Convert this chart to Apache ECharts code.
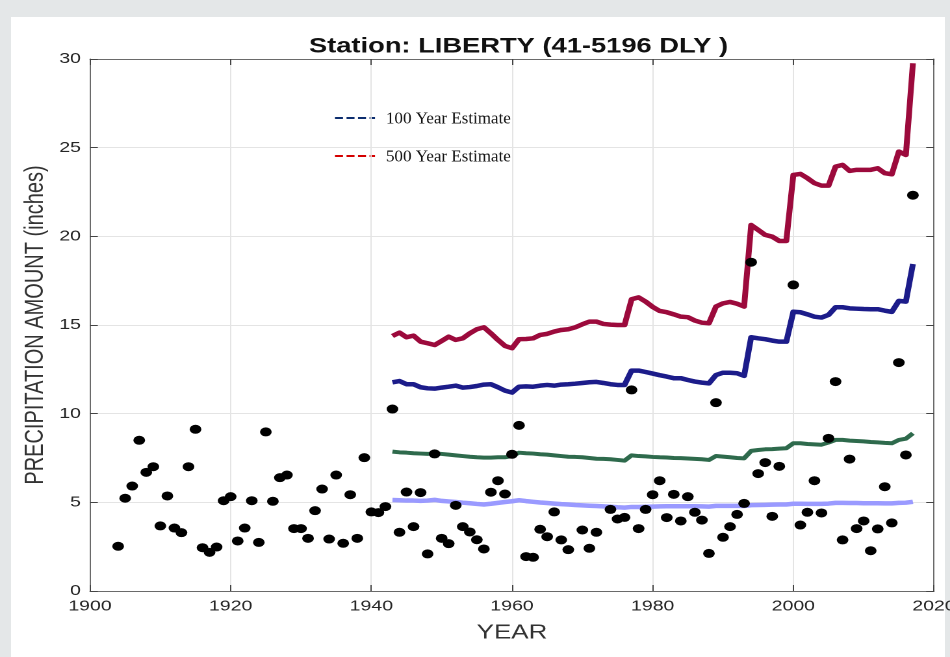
<!DOCTYPE html>
<html>
<head>
<meta charset="utf-8">
<title>Station: LIBERTY</title>
<script src="https://cdn.jsdelivr.net/npm/echarts@6.0.0/dist/echarts.min.js"></script>
<style>
  html, body { margin: 0; padding: 0; }
  body { width: 950px; height: 657px; background: #e4e7e8; position: relative; overflow: hidden; }
  .panel { position: absolute; left: 11px; top: 17px; width: 934px; height: 640px; background: #fff; }
  /* the original figure is stretched sideways, so draw narrow and widen */
  #precipChart { position: absolute; left: 0; top: 0; width: 731px; height: 657px;
    transform: scaleX(1.2996); transform-origin: 0 0; }
</style>
</head>
<body>
<div class="panel"></div>
<div id="precipChart"></div>
<script>
// annual maximum precipitation (inches), years with a reading
var obsYears = [1904,1905,1906,1907,1908,1909,1910,1911,1912,1913,1914,1915,1916,1917,1918,1919,
  1920,1921,1922,1923,1924,1925,1926,1927,1928,1929,1930,1931,1932,1933,1934,1935,1936,1937,1938,1939,
  1940,1941,1942,1943,1944,1945,1946,1947,1948,1949,1950,1951,1952,1953,1954,1955,1956,1957,1958,1959,
  1960,1961,1962,1963,1964,1965,1966,1967,1968,1970,1971,1972,1974,1975,1976,1977,1978,1979,
  1980,1981,1982,1983,1984,1985,1986,1987,1988,1989,1990,1991,1992,1993,1994,1995,1996,1997,1998,
  2000,2001,2002,2003,2004,2005,2006,2007,2008,2009,2010,2011,2012,2013,2014,2015,2016,2017];
var obsValues = [2.52,5.23,5.92,8.50,6.69,7.01,3.67,5.36,3.55,3.29,7.01,9.12,2.44,2.18,2.48,5.09,
  5.32,2.82,3.55,5.09,2.74,8.97,5.06,6.39,6.54,3.52,3.52,2.97,4.53,5.75,2.93,6.54,2.69,5.43,2.97,7.52,
  4.46,4.42,4.76,10.26,3.31,5.58,3.63,5.55,2.09,7.73,2.97,2.67,4.83,3.63,3.33,2.89,2.37,5.57,6.22,5.47,
  7.71,9.34,1.94,1.90,3.48,3.06,4.46,2.88,2.33,3.44,2.41,3.31,4.60,4.06,4.15,11.34,3.52,4.60,
  5.43,6.22,4.14,5.45,3.95,5.32,4.44,4.00,2.12,10.62,3.03,3.63,4.32,4.94,18.54,6.62,7.24,4.21,7.03,
  17.26,3.72,4.44,6.22,4.40,8.61,11.81,2.88,7.44,3.52,3.95,2.27,3.50,5.88,3.84,12.88,7.67,22.32];

// running estimates, 1943-2017
var estYears = [1943,1944,1945,1946,1947,1948,1949,1950,1951,1952,1953,1954,1955,1956,1957,1958,1959,
  1960,1961,1962,1963,1964,1965,1966,1967,1968,1969,1970,1971,1972,1973,1974,1975,1976,1977,1978,1979,
  1980,1981,1982,1983,1984,1985,1986,1987,1988,1989,1990,1991,1992,1993,1994,1995,1996,1997,1998,1999,
  2000,2001,2002,2003,2004,2005,2006,2007,2008,2009,2010,2011,2012,2013,2014,2015,2016,2017];
var est500 = [14.38,14.57,14.31,14.40,14.06,13.97,13.87,14.10,14.34,14.16,14.25,14.53,14.76,14.87,14.53,14.16,13.82,
  13.69,14.20,14.21,14.25,14.44,14.50,14.63,14.72,14.76,14.87,15.04,15.19,15.19,15.06,15.02,15.00,15.00,16.45,16.56,16.32,
  16.02,15.79,15.72,15.60,15.47,15.44,15.25,15.13,15.10,16.04,16.22,16.30,16.20,16.04,20.64,20.36,20.08,19.98,19.74,19.74,
  23.46,23.52,23.28,23.00,22.86,22.86,23.93,24.03,23.69,23.75,23.75,23.75,23.84,23.56,23.50,24.78,24.59,29.76];
var est100 = [11.77,11.84,11.66,11.66,11.49,11.43,11.41,11.47,11.52,11.58,11.47,11.50,11.56,11.64,11.66,11.49,11.30,
  11.19,11.52,11.54,11.52,11.58,11.62,11.58,11.64,11.66,11.69,11.73,11.77,11.79,11.73,11.66,11.62,11.62,12.43,12.43,12.35,
  12.26,12.17,12.09,12.00,12.00,11.90,11.81,11.75,11.71,12.18,12.31,12.31,12.28,12.13,14.31,14.25,14.20,14.12,14.06,14.06,
  15.75,15.72,15.60,15.47,15.42,15.57,16.00,16.00,15.94,15.92,15.90,15.89,15.89,15.81,15.74,16.36,16.32,18.44];
var estGreen = [7.86,7.82,7.80,7.77,7.75,7.73,7.77,7.73,7.69,7.65,7.61,7.57,7.54,7.52,7.52,7.54,7.54,
  7.61,7.80,7.77,7.75,7.71,7.69,7.65,7.61,7.57,7.56,7.54,7.50,7.46,7.45,7.43,7.39,7.35,7.65,7.61,7.59,
  7.56,7.54,7.53,7.50,7.49,7.47,7.45,7.43,7.39,7.61,7.58,7.54,7.50,7.48,7.90,7.95,7.99,8.00,8.03,8.05,
  8.33,8.33,8.29,8.27,8.25,8.37,8.52,8.52,8.48,8.46,8.44,8.40,8.38,8.35,8.33,8.52,8.59,8.89];
var estLight = [5.13,5.12,5.10,5.10,5.08,5.10,5.14,5.08,5.05,5.02,4.98,4.95,4.91,4.88,4.92,4.97,5.02,
  5.06,5.12,5.07,5.03,4.99,4.96,4.93,4.90,4.88,4.85,4.83,4.81,4.79,4.77,4.75,4.72,4.70,4.74,4.74,4.75,
  4.76,4.77,4.78,4.78,4.78,4.78,4.78,4.77,4.76,4.80,4.80,4.80,4.80,4.79,4.84,4.85,4.86,4.87,4.88,4.88,
  4.92,4.92,4.91,4.91,4.91,4.93,4.97,4.97,4.96,4.96,4.95,4.95,4.95,4.94,4.94,4.97,4.98,5.03];

var xTicks = [1900, 2020, 20];
var yTicks = [0, 30, 5];

var SX = 1.2996; // horizontal stretch of the page
var FONT = 'Liberation Sans, Arial, sans-serif';

function pairs(xs, ys) {
  return xs.map(function (x, i) { return [x, ys[i]]; });
}

function estLine(name, ys, color, width) {
  return {
    name: name,
    type: 'line',
    data: pairs(estYears, ys),
    symbol: 'none',
    lineStyle: { color: color, width: width, join: 'round' },
    itemStyle: { color: color },
    z: 2
  };
}

function axisBase(isX, pos, showLabel) {
  var t = isX ? xTicks : yTicks;
  return {
    type: 'value',
    position: pos,
    min: t[0], max: t[1], interval: t[2],
    axisLine: { show: true, onZero: false, lineStyle: { color: '#6a6a6a', width: 1 } },
    axisTick: { show: true, inside: true, length: 6, lineStyle: { color: '#444' } },
    axisLabel: { show: showLabel, fontSize: 15, color: '#262626', fontFamily: FONT,
      margin: isX ? 8 : 7, showMinLabel: true, showMaxLabel: true,
      formatter: function (v) { return String(v); } },
    splitLine: { show: showLabel, lineStyle: { color: '#e4e4e4', width: 1 } }
  };
}

// legend is drawn un-stretched, like the boxes pasted on the slide
function legendRow(y, color, label) {
  return [
    { type: 'line', shape: { x1: 0, y1: y, x2: 40, y2: y },
      style: { stroke: color, lineWidth: 2, lineDash: [8, 3.5] } },
    { type: 'text', x: 51, y: y + 1,
      style: { text: label, fontSize: 17, fontFamily: 'Liberation Serif, Times New Roman, serif',
        fill: '#111', verticalAlign: 'middle' } }
  ];
}

var chart = echarts.init(document.getElementById('precipChart'), null, { devicePixelRatio: 2 });

var xBottom = axisBase(true, 'bottom', true);
xBottom.name = 'YEAR';
xBottom.nameLocation = 'middle';
xBottom.nameGap = 32;
xBottom.nameMoveOverlap = false;
xBottom.nameTextStyle = { fontSize: 20, color: '#333', fontFamily: FONT };

var yLeft = axisBase(false, 'left', true);
yLeft.name = 'PRECIPITATION AMOUNT (inches)';
yLeft.nameLocation = 'middle';
yLeft.nameGap = 32;
yLeft.nameMoveOverlap = false;
yLeft.nameTextStyle = { fontSize: 20, color: '#333', fontFamily: FONT };

chart.setOption({
  animation: false,
  backgroundColor: 'transparent',
  title: {
    text: 'Station: LIBERTY (41-5196 DLY )',
    left: 512 / SX,
    textAlign: 'center',
    top: 31,
    textStyle: { fontSize: 21, fontWeight: 'bold', color: '#111', fontFamily: FONT }
  },
  grid: { left: 90 / SX, right: 731 - 934 / SX, top: 59, bottom: 66,
    containLabel: false, outerBoundsMode: 'none' },
  xAxis: [xBottom, axisBase(true, 'top', false)],
  yAxis: [yLeft, axisBase(false, 'right', false)],
  graphic: [{
    type: 'group',
    x: 335 / SX,
    y: 0,
    scaleX: 1 / SX,
    children: legendRow(118, '#0c2d6e', '100 Year Estimate')
      .concat(legendRow(156, '#d40000', '500 Year Estimate'))
  }],
  series: [
    estLine('500 Year Estimate', est500, '#9c0a3c', 4.5),
    estLine('100 Year Estimate', est100, '#1c1c8a', 4.5),
    estLine('Green estimate', estGreen, '#2e6a4c', 4),
    estLine('Light estimate', estLight, '#9a9aff', 4.5),
    {
      name: 'Annual maximum',
      type: 'scatter',
      data: pairs(obsYears, obsValues),
      symbol: 'circle',
      symbolSize: 9,
      itemStyle: { color: '#000', opacity: 1 },
      z: 3
    }
  ]
});
</script>
</body>
</html>
